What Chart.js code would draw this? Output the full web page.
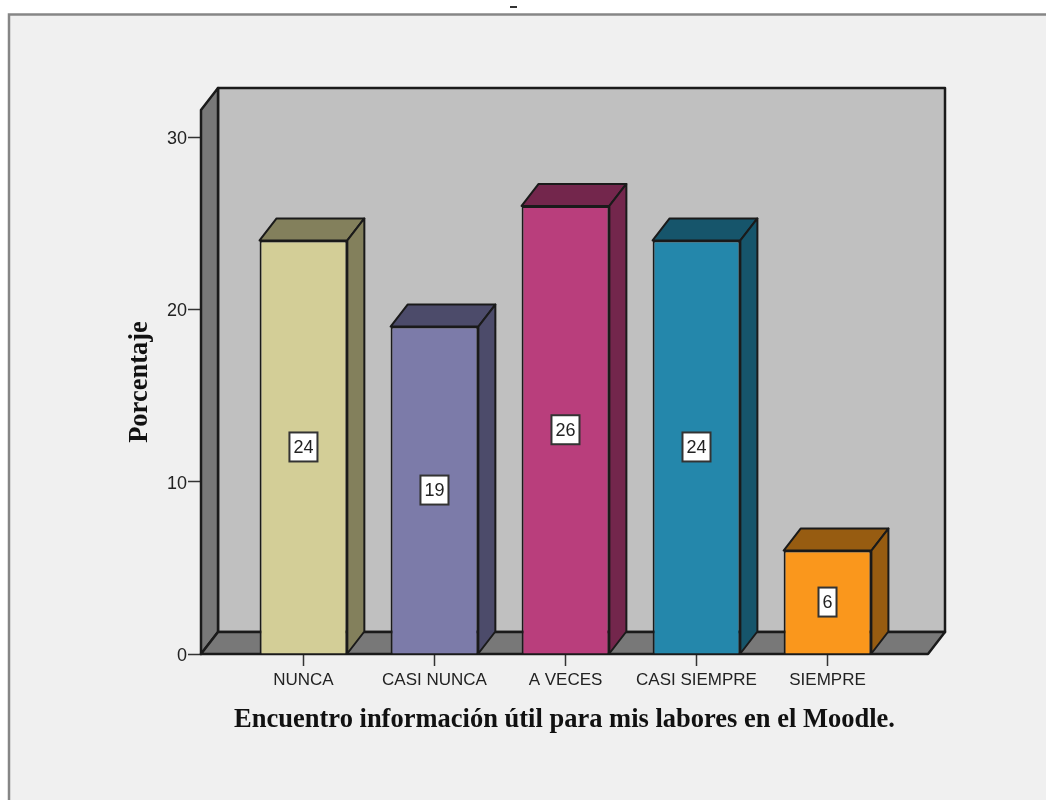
<!DOCTYPE html>
<html>
<head>
<meta charset="utf-8">
<style>
html, body { margin: 0; padding: 0; background: #fff; overflow: hidden; }
#wrap { width: 1046px; height: 800px; position: relative; }
</style>
<script src="https://cdn.jsdelivr.net/npm/chart.js@4"></script>
</head>
<body>
<div id="wrap"><canvas id="chart" width="1046" height="800"></canvas></div>
<script>
const categories = ['NUNCA', 'CASI NUNCA', 'A VECES', 'CASI SIEMPRE', 'SIEMPRE'];
const percentages = [24, 19, 26, 24, 6];
const frontColors = ['#d3ce97', '#7c7ba9', '#b93e7c', '#2487ab', '#fa971c'];
const sideColors = ['#83805c', '#4c4b6a', '#73264c', '#16556b', '#975c11'];
const yTicks = [0, 10, 20, 30];
const yTitle = 'Porcentaje';
const xTitle = 'Encuentro información útil para mis labores en el Moodle.';

// Oblique offset of the back of the 3D box, in pixels
const DEPTH_X = 17;
const DEPTH_Y = -22;
const LINE = '#1a1a1a';

function face(ctx, pts, fill, width) {
  ctx.beginPath();
  pts.forEach((p, i) => i ? ctx.lineTo(p[0], p[1]) : ctx.moveTo(p[0], p[1]));
  ctx.closePath();
  ctx.fillStyle = fill;
  ctx.fill();
  ctx.strokeStyle = LINE;
  ctx.lineWidth = width;
  ctx.lineJoin = 'round';
  ctx.stroke();
}

// Window-like panel behind the chart
const panel = {
  id: 'panel',
  beforeDraw(chart) {
    const ctx = chart.ctx;
    ctx.save();
    ctx.fillStyle = '#f0f0f0';
    ctx.fillRect(9, 14, 1037, 786);
    ctx.strokeStyle = '#868686';
    ctx.lineWidth = 2.5;
    ctx.beginPath();
    ctx.moveTo(9, 800);
    ctx.lineTo(9, 14.5);
    ctx.lineTo(1046, 14.5);
    ctx.stroke();
    ctx.fillStyle = '#333';
    ctx.fillRect(510, 6, 7, 2);
    ctx.restore();
  }
};

// Back wall, side wall and floor of the box
const box = {
  id: 'box',
  beforeDatasetsDraw(chart) {
    const { ctx, chartArea: a } = chart;
    ctx.save();
    face(ctx, [[a.left + DEPTH_X, a.top + DEPTH_Y], [a.right + DEPTH_X, a.top + DEPTH_Y],
               [a.right + DEPTH_X, a.bottom + DEPTH_Y], [a.left + DEPTH_X, a.bottom + DEPTH_Y]], '#c0c0c0', 2.5);
    face(ctx, [[a.left, a.top], [a.left + DEPTH_X, a.top + DEPTH_Y],
               [a.left + DEPTH_X, a.bottom + DEPTH_Y], [a.left, a.bottom]], '#787878', 2.5);
    face(ctx, [[a.left, a.bottom], [a.left + DEPTH_X, a.bottom + DEPTH_Y],
               [a.right + DEPTH_X, a.bottom + DEPTH_Y], [a.right, a.bottom]], '#787878', 2.5);
    // Top and side faces of each bar
    chart.getDatasetMeta(0).data.forEach((bar, i) => {
      const l = bar.x - bar.width / 2, r = bar.x + bar.width / 2;
      face(ctx, [[l, bar.y], [l + DEPTH_X, bar.y + DEPTH_Y], [r + DEPTH_X, bar.y + DEPTH_Y], [r, bar.y]], sideColors[i], 2);
      face(ctx, [[r, bar.y], [r + DEPTH_X, bar.y + DEPTH_Y], [r + DEPTH_X, bar.base + DEPTH_Y], [r, bar.base]], sideColors[i], 2);
    });
    ctx.restore();
  }
};

// White value boxes centred on the bars
const valueLabels = {
  id: 'valueLabels',
  afterDatasetsDraw(chart) {
    const ctx = chart.ctx;
    ctx.save();
    ctx.font = '18px "Liberation Sans"';
    ctx.textAlign = 'center';
    ctx.textBaseline = 'middle';
    chart.getDatasetMeta(0).data.forEach((bar, i) => {
      const text = String(percentages[i]);
      const w = ctx.measureText(text).width + 8;
      const h = 29;
      const cy = (bar.y + bar.base) / 2;
      ctx.fillStyle = '#fff';
      ctx.fillRect(bar.x - w / 2, cy - h / 2, w, h);
      ctx.strokeStyle = '#333';
      ctx.lineWidth = 2;
      ctx.strokeRect(bar.x - w / 2, cy - h / 2, w, h);
      ctx.fillStyle = '#222';
      ctx.fillText(text, bar.x, cy + 1);
    });
    ctx.restore();
  }
};

new Chart(document.getElementById('chart'), {
  type: 'bar',
  data: {
    datasets: [{
      data: percentages.map((v, i) => ({ x: i, y: v })),
      backgroundColor: frontColors,
      borderColor: LINE,
      borderWidth: 2,
      barPercentage: 0.67,
      categoryPercentage: 1
    }]
  },
  plugins: [panel, box, valueLabels],
  options: {
    responsive: false,
    animation: false,
    layout: { padding: { top: 110, right: 118, left: 0, bottom: 0 } },
    plugins: { legend: { display: false }, tooltip: { enabled: false } },
    scales: {
      x: {
        type: 'linear',
        offset: false,
        min: -0.782,
        max: 4.767,
        afterBuildTicks(scale) { scale.ticks = categories.map((_, i) => ({ value: i })); },
        afterFit(scale) { scale.height = 146; },
        grid: { display: true, offset: false, drawOnChartArea: false, tickLength: 12, tickColor: '#333', tickWidth: 1.5 },
        border: { display: false },
        ticks: {
          autoSkip: false,
          maxRotation: 0,
          padding: 4,
          color: '#222',
          font: { family: 'Liberation Sans', size: 17 },
          callback(value) { return categories[value] ?? ''; }
        },
        title: {
          display: true,
          text: xTitle,
          color: '#111',
          font: { family: 'Liberation Serif', size: 26.5, weight: 'bold' },
          padding: { top: 0, bottom: 64 }
        }
      },
      y: {
        min: 0,
        max: 31.57,
        afterBuildTicks(scale) { scale.ticks = yTicks.map(v => ({ value: v })); },
        afterFit(scale) { scale.width = 201; },
        grid: { display: true, drawOnChartArea: false, tickLength: 13, tickColor: '#333', tickWidth: 1.5 },
        border: { display: false },
        ticks: { padding: 1, labelOffset: 2, color: '#222', font: { family: 'Liberation Sans', size: 18 } },
        title: {
          display: true,
          text: yTitle,
          color: '#111',
          font: { family: 'Liberation Serif', size: 26.5, weight: 'bold' },
          padding: { top: 124, bottom: 0 }
        }
      }
    }
  }
});
</script>
</body>
</html>
